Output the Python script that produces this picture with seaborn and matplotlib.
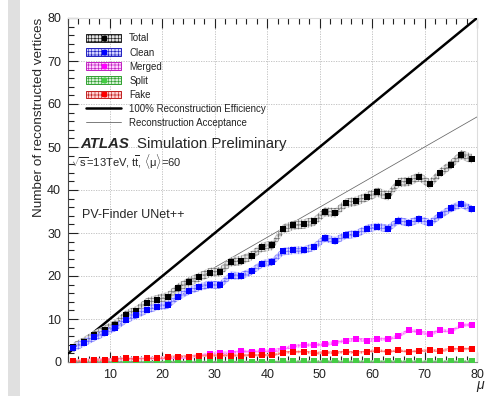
import matplotlib
matplotlib.use("Agg")
import matplotlib.pyplot as plt
from matplotlib.patches import Patch, Rectangle
from matplotlib.lines import Line2D
from matplotlib.ticker import MultipleLocator
import numpy as np
import pandas as pd
import seaborn as sns

# Average number of interactions per bunch crossing (bin centres)
mu = [3, 5, 7, 9, 11, 13, 15, 17, 19, 21, 23, 25, 27,
      29, 31, 33, 35, 37, 39, 41, 43, 45, 47, 49, 51, 53,
      55, 57, 59, 61, 63, 65, 67, 69, 71, 73, 75, 77, 79]

total = [3.4, 4.7, 6.2, 7.4, 8.7, 10.9, 11.9, 13.8, 14.5, 15.2, 17.2, 18.6, 19.7,
         20.8, 21.0, 23.3, 23.6, 24.7, 26.7, 27.1, 30.9, 31.8, 32.1, 32.7, 34.9, 34.7,
         36.9, 37.4, 38.4, 39.5, 38.6, 41.7, 42.0, 43.1, 41.4, 44.0, 45.9, 48.2, 47.3]
clean = [3.3, 4.4, 5.7, 6.8, 8.0, 9.8, 10.9, 12.1, 12.9, 13.2, 15.2, 16.5, 17.4,
         18.0, 17.9, 20.1, 20.0, 21.1, 22.8, 23.3, 25.7, 26.0, 26.0, 26.8, 28.8, 28.2,
         29.5, 29.8, 31.0, 31.5, 31.0, 32.9, 32.3, 33.2, 32.3, 34.1, 35.7, 36.7, 35.5]
merged = [0.2, 0.3, 0.4, 0.4, 0.6, 0.7, 0.7, 0.8, 0.9, 1.0, 1.1, 1.2, 1.4,
          1.9, 2.0, 2.0, 2.5, 2.3, 2.6, 2.5, 3.1, 3.6, 3.9, 4.0, 4.1, 4.5,
          5.0, 5.3, 5.0, 5.3, 5.3, 6.0, 7.4, 7.0, 6.4, 7.4, 7.1, 8.5, 8.7]
split = [0.1, 0.1, 0.1, 0.1, 0.1, 0.1, 0.1, 0.1, 0.1, 0.1, 0.1, 0.1, 0.1,
         0.1, 0.1, 0.1, 0.1, 0.1, 0.1, 0.1, 0.2, 0.2, 0.2, 0.2, 0.2, 0.2,
         0.2, 0.2, 0.2, 0.2, 0.2, 0.2, 0.2, 0.2, 0.2, 0.2, 0.2, 0.2, 0.2]
fake = [0.3, 0.3, 0.5, 0.4, 0.6, 0.85, 0.6, 0.85, 0.85, 1.1, 1.25, 1.25, 1.4,
        1.5, 1.5, 1.5, 1.5, 1.6, 1.6, 1.6, 2.2, 2.3, 2.4, 2.0, 2.2, 2.1,
        2.4, 2.1, 2.4, 2.7, 2.4, 2.7, 2.4, 2.6, 2.8, 2.6, 3.0, 3.0, 3.1]

# Uncertainty half-widths drawn as hatched bands
total_err = 1.1
clean_err = 0.9
merged_err = 0.4
split_err = 0.2
fake_err = 0.3

# Reference lines
line_mu = [2, 80]
efficiency_100 = [2, 80]
acceptance = [2.4, 57.0]

labels = ["Total", "Clean", "Merged", "Split", "Fake"]
marker_colors = ["#000000", "#0000ff", "#ff00ff", "#44cc44", "#ff0000"]
band_colors = ["#e2e2e2", "#d4d4ff", "#ffd0ff", "#d4f0d4", "#ffd0d0"]
hatch_colors = ["#707070", "#6868ff", "#ff60ff", "#60c060", "#ff6060"]
legend_edges = ["#202020", "#2020c0", "#c020c0", "#30a030", "#c02020"]

df = pd.DataFrame({"mu": mu, "Total": total, "Clean": clean,
                   "Merged": merged, "Split": split, "Fake": fake})
errors = {"Total": total_err, "Clean": clean_err, "Merged": merged_err,
          "Split": split_err, "Fake": fake_err}
lines_df = pd.DataFrame({"mu": line_mu, "eff": efficiency_100, "acc": acceptance})

sns.set_theme(style="white")
plt.rcParams["font.family"] = ["Liberation Sans", "DejaVu Sans"]
plt.rcParams["mathtext.fontset"] = "custom"
plt.rcParams["mathtext.rm"] = "Liberation Sans"
plt.rcParams["mathtext.it"] = "Liberation Sans:italic"
plt.rcParams["hatch.linewidth"] = 0.45

fig = plt.figure(figsize=(4.87, 3.96), dpi=100)
fig.patches.append(Rectangle((8 / 487, 0), 12 / 487, 1, transform=fig.transFigure,
                             facecolor="#e0e0e0", edgecolor="none", zorder=0))
ax = fig.add_axes([68 / 487, 1 - 362 / 396, 409 / 487, 344 / 396])

# Reference lines
sns.lineplot(data=lines_df, x="mu", y="eff", ax=ax, color="black", linewidth=1.8, zorder=3)
sns.lineplot(data=lines_df, x="mu", y="acc", ax=ax, color="#666666", linewidth=0.55, zorder=3)

# Bands, dotted connectors and square markers for each category
for name in ["Total", "Clean", "Merged", "Split", "Fake"]:
    i = labels.index(name)
    y = df[name].to_numpy()
    e = errors[name]
    ax.fill_between(df["mu"], y - e, y + e, facecolor=band_colors[i],
                    edgecolor=hatch_colors[i], hatch="+++++", linewidth=0, zorder=4)
    sns.lineplot(data=df, x="mu", y=name, ax=ax, color=hatch_colors[i], linewidth=0.8,
                 linestyle=":", zorder=5)
    sns.scatterplot(data=df, x="mu", y=name, ax=ax, color=marker_colors[i], marker="s",
                    s=14, linewidth=0, zorder=6)

ax.set_xlim(2, 80)
ax.set_ylim(0, 80)
ax.xaxis.set_major_locator(MultipleLocator(10))
ax.xaxis.set_minor_locator(MultipleLocator(2))
ax.yaxis.set_major_locator(MultipleLocator(10))
ax.yaxis.set_minor_locator(MultipleLocator(2))
ax.tick_params(axis="both", which="both", direction="in", top=True, right=False,
               bottom=True, left=True, labelsize=9, colors="#222222", pad=5)
ax.tick_params(axis="both", which="major", length=7, width=0.8)
ax.tick_params(axis="both", which="minor", length=4, width=0.8)
ax.grid(True, which="major", color="#bbbbbb", linestyle=(0, (1.5, 1.5)), linewidth=0.6)
ax.set_axisbelow(True)
for side, col in [("left", "#444444"), ("bottom", "#888888"),
                  ("top", "#dddddd"), ("right", "#dddddd")]:
    ax.spines[side].set_color(col)
    ax.spines[side].set_linewidth(0.8)

ax.set_xlabel(r"$\mu$", fontsize=10)
ax.xaxis.set_label_coords(1.01, -0.05)
ax.set_ylabel("Number of reconstructed vertices", fontsize=9.7, loc="top")
ax.yaxis.set_label_coords(-0.057, 1.0)

# Legend with hatched boxes carrying a marker in the middle
handles = []
for i in range(5):
    box = Patch(facecolor=band_colors[i], edgecolor=legend_edges[i], hatch="+++++",
                linewidth=0.7)
    dot = Line2D([], [], marker="s", color=marker_colors[i], linestyle="none",
                 markersize=3.5)
    handles.append((box, dot))
handles.append(Line2D([], [], color="black", linewidth=1.8))
handles.append(Line2D([], [], color="#666666", linewidth=0.6))
leg_labels = labels + ["100% Reconstruction Efficiency", "Reconstruction Acceptance"]
leg = ax.legend(handles, leg_labels, loc="upper left", bbox_to_anchor=(0.045, 0.955),
                frameon=False, fontsize=7, handlelength=3.6, handleheight=0.85,
                labelspacing=0.42, handletextpad=0.8, borderpad=0, borderaxespad=0)
for t in leg.get_texts():
    t.set_color("#222222")

ax.text(0.03, 0.622, "ATLAS", transform=ax.transAxes, fontsize=10.8,
        fontweight="bold", fontstyle="italic", va="baseline")
ax.text(0.168, 0.622, "Simulation Preliminary", transform=ax.transAxes,
        fontsize=10.8, va="baseline")
ax.text(0.008, 0.568,
        r"$\sqrt{\mathrm{s}}$=13TeV, t$\overline{\mathrm{t}}$, $\langle\mathrm{\mu}\rangle$=60",
        transform=ax.transAxes, fontsize=8, va="baseline")
ax.text(0.035, 0.418, "PV-Finder UNet++", transform=ax.transAxes, fontsize=9,
        va="baseline")

fig.savefig("out.png", dpi=100)
